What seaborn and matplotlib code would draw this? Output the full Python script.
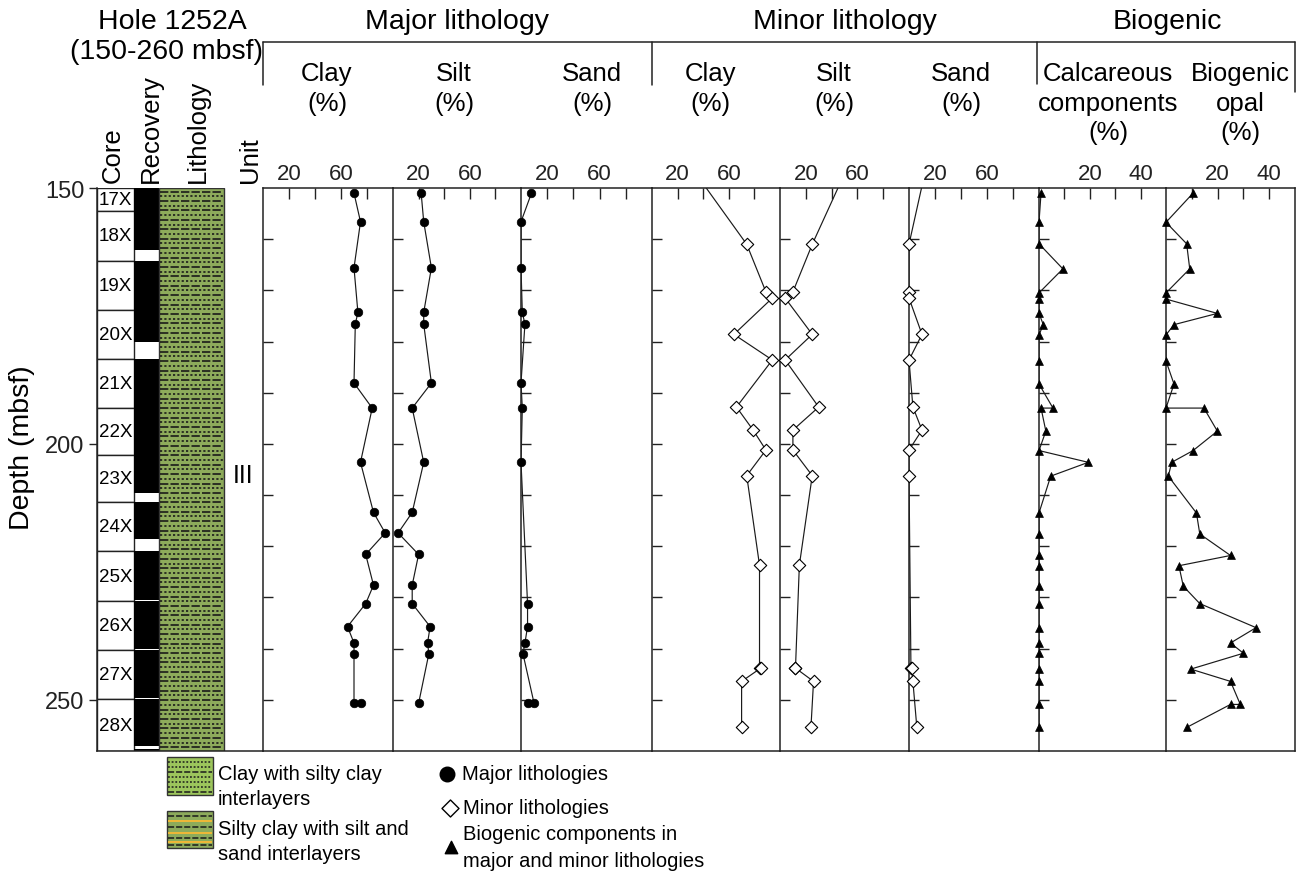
import numpy as np
import matplotlib
matplotlib.use("Agg")
import matplotlib.pyplot as plt
import seaborn as sns
from matplotlib.patches import Rectangle

# ---------------- data (depth in mbsf, values in %) ----------------
core_names = ['17X', '18X', '19X', '20X', '21X', '22X',
              '23X', '24X', '25X', '26X', '27X', '28X']
core_tops = [150.0, 154.5, 164.2, 173.9, 183.5, 193.0,
             202.2, 211.4, 221.0, 230.7, 240.3, 249.9]
core_bottoms = [154.5, 164.2, 173.9, 183.5, 193.0, 202.2,
                211.4, 221.0, 230.7, 240.3, 249.9, 260.0]

recovered_tops = [150.0, 164.2, 183.4, 211.3, 220.9, 230.7, 240.3, 249.9, 259.6]
recovered_bottoms = [162.1, 180.0, 209.6, 218.6, 230.4, 240.0, 249.6, 259.1, 260.0]

unit_label = 'III'
unit_depth = 206.0

# major lithologies
maj_clay_depth = [151.0, 156.6, 165.6, 174.3, 176.6, 188.1, 193.0, 203.6, 213.4,
                  217.4, 221.6, 227.6, 231.2, 235.7, 238.9, 241.0, 250.7, 250.7]
maj_clay = [70, 75, 70, 73, 71, 70, 84, 75, 85, 94, 79, 85, 79, 65, 70, 70, 70, 75]

maj_silt_depth = [151.0, 156.6, 165.6, 174.3, 176.6, 188.1, 193.0, 203.6, 213.4,
                  217.4, 221.6, 227.6, 231.2, 235.7, 238.9, 241.0, 250.7]
maj_silt = [22, 24, 30, 24, 24, 30, 15, 24, 15, 4, 20, 15, 15, 29, 27, 28, 20]

maj_sand_depth = [151.0, 156.6, 165.6, 174.3, 176.6, 188.1, 193.0, 203.6,
                  231.2, 235.7, 238.9, 241.0, 250.7, 250.7]
maj_sand = [8, 0, 0, 1, 3, 0, 1, 0, 5, 5, 3, 1.5, 10, 5]

# minor lithologies (first sample lies above the plotted interval)
min_depth = [145.0, 161.0, 170.3, 171.5, 178.6, 183.6, 192.8, 197.3, 201.2,
             206.2, 223.7, 243.8, 243.8, 246.4, 255.3]
min_clay = [28, 74, 89, 94, 64, 94, 66, 79, 89, 74, 84, 84, 85, 70, 70]
min_silt = [54, 25, 10, 4, 25, 4, 30, 10, 10, 25, 15, 12, 12, 26, 24]

min_sand_depth = [145.0, 161.0, 170.3, 171.5, 178.6, 183.6, 192.8, 197.3, 201.2,
                  206.2, 243.8, 243.8, 246.4, 255.3]
min_sand = [14, 0, 0, 0, 10, 0, 3, 10, 0, 0, 1.5, 2, 3, 6]

# biogenic components
calc_depth = [151.0, 156.7, 160.9, 165.8, 170.5, 171.7, 174.5, 176.7, 178.7, 183.8,
              188.3, 193.0, 193.0, 197.5, 201.3, 203.6, 206.3, 213.5, 217.6, 221.8,
              223.8, 227.8, 231.2, 235.9, 238.9, 240.9, 244.0, 246.4, 250.9, 255.4]
calc = [0.8, 0, 0, 9.4, 0, 0, 0, 1.7, 0, 0, 0, 5.5, 0.8, 2.7, 0, 19.4, 4.6,
        0, 0, 0, 0, 0, 0, 0, 0, 0, 0, 0, 0, 0]

opal_depth = [151.0, 156.7, 160.9, 165.8, 170.5, 171.7, 174.5, 176.7, 178.7, 183.8,
              188.3, 193.0, 193.0, 197.5, 201.3, 203.6, 206.3, 213.5, 217.6, 221.8,
              223.8, 227.8, 231.2, 235.9, 238.9, 240.9, 244.0, 246.4, 250.9, 250.9, 255.4]
opal = [10.5, 0, 8, 9.2, 0, 0, 19.9, 3.1, 0, 0, 3.1, 0, 14.7, 19.9, 10.5, 2.2, 0.9,
        11.8, 13.1, 25, 5, 6.7, 13.1, 34.9, 25, 30, 9.6, 25, 28.8, 25, 8]

subheaders = ['Clay\n(%)', 'Silt\n(%)', 'Sand\n(%)', 'Clay\n(%)', 'Silt\n(%)',
              'Sand\n(%)', 'Calcareous\ncomponents\n(%)', 'Biogenic\nopal\n(%)']

# ---------------- style ----------------
sns.set_theme(style="ticks")
plt.rcParams['font.family'] = ['Liberation Sans', 'DejaVu Sans']
plt.rcParams['axes.edgecolor'] = '#222222'
plt.rcParams['axes.linewidth'] = 1.1
plt.rcParams['xtick.color'] = '#222222'
plt.rcParams['ytick.color'] = '#222222'
plt.rcParams['text.color'] = 'black'

W, H = 1314, 879
TOP, BOT = 189, 752
LITHO_GREEN = '#8dab5b'
INK = '#1a1a1a'

fig = plt.figure(figsize=(W / 100, H / 100), dpi=100)


def box(x0, x1):
    return [x0 / W, 1 - BOT / H, (x1 - x0) / W, (BOT - TOP) / H]


# overlay in pixel coordinates for headers and legend
ov = fig.add_axes([0, 0, 1, 1])
ov.set_xlim(0, W)
ov.set_ylim(H, 0)
ov.axis('off')

# ---------------- left columns ----------------
ax0 = fig.add_axes(box(97, 263))
ax0.set_xlim(0, 166)
ax0.set_ylim(260, 150)
for name, top, bot in zip(core_names, core_tops, core_bottoms):
    ax0.add_patch(Rectangle((0, top), 37, bot - top, fc='white', ec='#222222', lw=1.0))
    ax0.text(18.5, (top + bot) / 2, name, ha='center', va='center', fontsize=13.5)
for top, bot in zip(recovered_tops, recovered_bottoms):
    ax0.add_patch(Rectangle((37, top), 25, bot - top, fc='black', ec='none'))
ax0.add_patch(Rectangle((62, 150), 65, 110, fc=LITHO_GREEN, ec='#333333', lw=1.0, zorder=1))
rows = np.arange(150.7, 259.9, 0.92)
ax0.hlines(rows[::2], 63, 126, colors=INK, linestyles=[(0, (5, 1.3))], lw=1.2, zorder=2)
ax0.hlines(rows[1::2], 63, 126, colors=INK, linestyles=[(0, (1.3, 1.3))], lw=1.2, zorder=2)
ax0.text(146, unit_depth, unit_label, ha='center', va='center', fontsize=18)

ax0.set_yticks([150, 200, 250])
ax0.set_xticks([])
ax0.tick_params(axis='y', direction='out', length=6, width=1, labelsize=17, pad=3)
ax0.spines['top'].set_visible(False)
ax0.spines['right'].set_visible(False)

# ---------------- data panels ----------------
panel_edges = [263, 393, 521, 652, 780, 909, 1039, 1166, 1295]
panels = [
    (maj_clay, maj_clay_depth, 'o', 100),
    (maj_silt, maj_silt_depth, 'o', 100),
    (maj_sand, maj_sand_depth, 'o', 100),
    (min_clay, min_depth, 'D', 100),
    (min_silt, min_depth, 'D', 100),
    (min_sand, min_sand_depth, 'D', 100),
    (calc, calc_depth, '^', 50),
    (opal, opal_depth, '^', 50),
]
marker_style = {
    'o': dict(s=38, color='black', edgecolor='black', linewidth=0.5),
    'D': dict(s=40, color='white', edgecolor='black', linewidth=0.8),
    '^': dict(s=32, color='black', edgecolor='black', linewidth=0.5),
}

for i, (vals, depth, mk, xmax) in enumerate(panels):
    ax = fig.add_axes(box(panel_edges[i], panel_edges[i + 1]))
    vals = np.asarray(vals, dtype=float)
    depth = np.asarray(depth, dtype=float)
    sns.lineplot(x=vals, y=depth, sort=False, estimator=None, color=INK,
                 lw=0.85, ax=ax, zorder=2)
    inside = depth >= 150
    sns.scatterplot(x=vals[inside], y=depth[inside], marker=mk, ax=ax,
                    clip_on=False, zorder=3, **marker_style[mk])
    ax.set_xlim(0, xmax)
    ax.set_ylim(260, 150)
    ax.set_xlabel('')
    ax.set_ylabel('')
    if xmax == 100:
        ax.set_xticks([20, 40, 60, 80])
        ax.set_xticklabels(['20', '', '60', ''])
    else:
        ax.set_xticks([10, 20, 30, 40])
        ax.set_xticklabels(['', '20', '', '40'])
    ax.set_yticks(np.arange(160, 260, 10))
    ax.tick_params(axis='x', direction='in', length=8, width=1, top=True, bottom=False,
                   labeltop=True, labelbottom=False, labelsize=16, pad=3)
    ax.tick_params(axis='y', direction='in', length=7, width=1, left=True,
                   labelleft=False)
    ax.spines['right'].set_visible(i == len(panels) - 1)
    ax.patch.set_alpha(0)

# ---------------- headers ----------------
ov.text(172, 22, 'Hole 1252A', ha='center', va='center', fontsize=20.5)
ov.text(167, 52, '(150-260 mbsf)', ha='center', va='center', fontsize=20.5)
for label, xc in zip(['Core', 'Recovery', 'Lithology', 'Unit'], [113, 151, 198, 250]):
    ov.text(xc, 183, label, rotation=90, ha='center', va='bottom', fontsize=18.5)

ov.text(457, 22, 'Major lithology', ha='center', va='center', fontsize=20.5)
ov.text(845, 22, 'Minor lithology', ha='center', va='center', fontsize=20.5)
ov.text(1167, 22, 'Biogenic', ha='center', va='center', fontsize=20.5)
ov.plot([263, 1295], [43, 43], color='#222222', lw=1.1)
for xv, y1 in zip([263, 652, 1037, 1295], [86, 86, 85, 93]):
    ov.plot([xv, xv], [43, y1], color='#222222', lw=1.1)

sub_x = [327, 454, 592, 710, 834, 961, 1108, 1240]
for label, xc in zip(subheaders, sub_x):
    ov.text(xc, 62, label, ha='center', va='top', fontsize=18.5, linespacing=1.3)

ov.text(22, 448, 'Depth (mbsf)', rotation=90, ha='center', va='center', fontsize=20.5)

# ---------------- legend ----------------
sw1 = Rectangle((167, 758), 46, 38, fc='#9cc55c', ec='#333333', lw=1.0)
sw2 = Rectangle((167, 812), 46, 37, fc=LITHO_GREEN, ec='#333333', lw=1.0)
ov.add_patch(sw1)
ov.add_patch(sw2)
ov.hlines([763, 768, 778, 783, 788], 168, 212, colors=INK,
          linestyles=[(0, (1.2, 1.2))], lw=1.1)
ov.hlines([773, 793], 168, 212, colors=INK, linestyles=[(0, (4, 1.3))], lw=1.1)
ov.hlines([817, 828, 839, 846], 168, 212, colors=INK, linestyles=[(0, (4, 1.3))], lw=1.1)
ov.hlines([822, 834, 843], 168, 212, colors='#f0b836', lw=1.4)

ov.text(218, 775, 'Clay with silty clay', ha='left', va='center', fontsize=14.5)
ov.text(218, 800, 'interlayers', ha='left', va='center', fontsize=14.5)
ov.text(218, 830, 'Silty clay with silt and', ha='left', va='center', fontsize=14.5)
ov.text(218, 855, 'sand interlayers', ha='left', va='center', fontsize=14.5)

ov.scatter([447], [775], marker='o', s=110, color='black')
ov.scatter([450], [809], marker='D', s=75, color='white', edgecolor='black', lw=1.0)
ov.scatter([451], [848], marker='^', s=80, color='black')
ov.text(462, 775, 'Major lithologies', ha='left', va='center', fontsize=14.5)
ov.text(463, 809, 'Minor lithologies', ha='left', va='center', fontsize=14.5)
ov.text(463, 835, 'Biogenic components in', ha='left', va='center', fontsize=14.5)
ov.text(463, 862, 'major and minor lithologies', ha='left', va='center', fontsize=14.5)

fig.savefig('out.png', dpi=100)
